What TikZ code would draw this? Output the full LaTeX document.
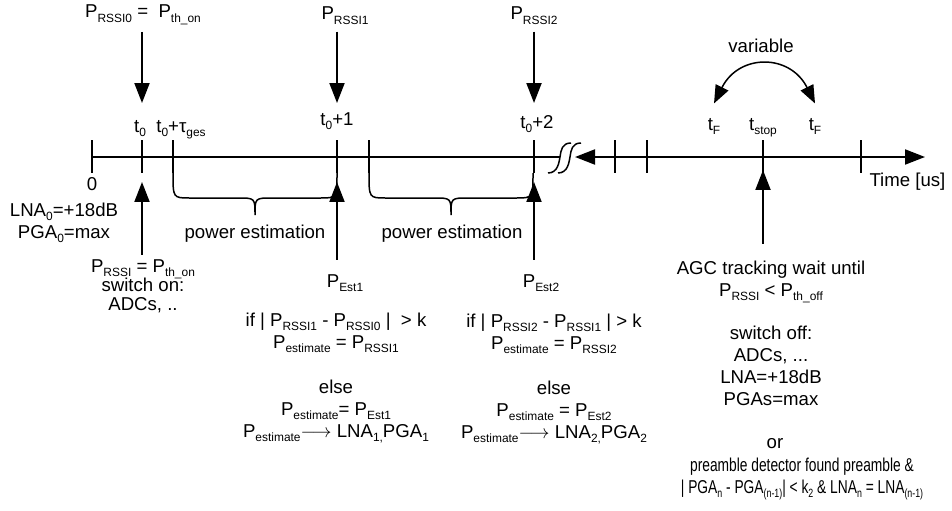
\documentclass[tikz,border=0pt]{standalone}
\usepackage{fontspec}
\setmainfont{Liberation Sans}
\newfontfamily\narrowfont[FakeStretch=0.74]{Liberation Sans}
\usetikzlibrary{arrows.meta}
\newcommand{\subt}[1]{\raisebox{-0.24em}{\fontsize{6.8}{7}\selectfont #1}}

\begin{document}
\begin{tikzpicture}[x=0.02cm, y=-0.02cm, line width=0.4mm,
  font=\fontsize{10.6}{12.5}\selectfont,
  arr/.style={-{Triangle[length=4mm,width=3mm]}},
  lbl/.style={anchor=base, inner sep=2pt},
  txt/.style={anchor=base, align=center, inner sep=2pt}]

\useasboundingbox (0,0) rectangle (952,510);

% Zeitachse
\foreach \n/\x in {z/92, t0/142, tg/173, t1/337, tp/369, t2/534, ta/615, tb/647, ts/763, te/861}
  \coordinate (\n) at (\x,157);
\coordinate (brkL) at (560,157);
\coordinate (brkR) at (575,157);
\coordinate (tend) at (925,157);

\draw (z) -- (brkL);
\draw[{Triangle[length=4mm,width=3mm]}-{Triangle[length=4mm,width=3mm]}] (brkR) -- (tend);

\foreach \n in {z,t0,tg,t1,tp,t2,ta,tb,ts,te}
  \draw (\n) ++(0,-17) -- ++(0,33);

% Unterbrechung
\foreach \dx in {0,10}
  \draw[line width=0.3mm, shift={(\dx,0)}] (548,173) .. controls (558,173) and (559,162) .. (560,157)
    .. controls (561,150) and (562,143) .. (571,143);

% Klammern
\foreach \x in {173,369}
  \draw[line width=0.3mm, shift={(\x,0)}] (0,173) .. controls (0,198) .. (17,198) -- (65,198)
    .. controls (82,198) .. (82,215) .. controls (82,198) .. (99,198) -- (147,198)
    .. controls (164,198) .. (164,173);

\node[lbl] (pe1) at (255,238) {power estimation};
\node[lbl] (pe2) at (452,238) {power estimation};

% oben
\node[lbl] (rssi0) at (143,18) {P\subt{RSSI0} =~ P\subt{th\_on}};
\node[lbl] (rssi1) at (345,20) {P\subt{RSSI1}};
\node[lbl] (rssi2) at (534,20) {P\subt{RSSI2}};

\draw[arr, shorten <=0.5mm] (rssi0.south -| t0) -- ([yshift=1.08cm]t0);
\draw[arr, shorten <=0.5mm] (rssi1.south -| t1) -- ([yshift=1.08cm]t1);
\draw[arr, shorten <=0.5mm] (rssi2.south -| t2) -- ([yshift=1.08cm]t2);

\node[lbl] (l0) at (92,190) {0};
\node[lbl] (lt0) at (140,132) {t\subt{0}};
\node[lbl] (ltg) at (181,132) {t\subt{0}+τ\subt{ges}};
\node[lbl] (lt1) at (337,125) {t\subt{0}+1};
\node[lbl] (lt2) at (537,128) {t\subt{0}+2};
\node[lbl] (ltf1) at (714,130) {t\subt{F}};
\node[lbl] (lts) at (763,130) {t\subt{stop}};
\node[lbl] (ltf2) at (815,130) {t\subt{F}};
\node[lbl, anchor=base west] (ltime) at (865,186) {Time [us]};

% variabel
\node[lbl] (lvar) at (761,53) {variable};
\draw[line width=0.3mm, {Triangle[length=3.6mm,width=2.8mm]}-{Triangle[length=3.6mm,width=2.8mm]}]
  ([yshift=2mm]ltf1.north) .. controls +(25,-50) and +(-25,-50) .. ([yshift=2mm]ltf2.north);

% unten links (base = letzte Zeile)
\node[txt] (init) at (64,238) {LNA\subt{0}=+18dB\\PGA\subt{0}=max};
\node[txt] (ton) at (143,310) {P\subt{RSSI} = P\subt{th\_on}\\[-1.5pt] switch on:\\[-2pt] ADCs, ..};
\draw[arr] (ton.north -| t0) -- ([yshift=-5mm]t0);

% Schaetzung 1
\node[lbl] (est1) at (345,287) {P\subt{Est1}};
\draw[arr, shorten <=2mm] (est1.north -| t1) -- ([yshift=-5mm]t1);
\node[txt] (c1) at (336,437) {if | P\subt{RSSI1} - P\subt{RSSI0} |~~> k\\
  P\subt{estimate} = P\subt{RSSI1}\\[13pt]
  else\\
  P\subt{estimate}= P\subt{Est1}\\
  P\subt{estimate}$\longrightarrow$ LNA\subt{1,}PGA\subt{1}};

% Schaetzung 2
\node[lbl] (est2) at (541,287) {P\subt{Est2}};
\draw[arr, shorten <=2mm] (est2.north -| t2) -- ([yshift=-5mm]t2);
\node[txt] (c2) at (554,438) {if | P\subt{RSSI2} - P\subt{RSSI1} | > k\\
  P\subt{estimate} = P\subt{RSSI2}\\[13pt]
  else\\
  P\subt{estimate} = P\subt{Est2}\\
  P\subt{estimate}$\longrightarrow$ LNA\subt{2,}PGA\subt{2}};

% Abschalten
\node[txt] (agc) at (771,405) {AGC tracking wait until\\
  P\subt{RSSI} < P\subt{th\_off}\\[12pt]
  switch off:\\ ADCs, ...\\ LNA=+18dB\\ PGAs=max};
\draw[arr, shorten <=2.5mm] (agc.north -| ts) -- ([yshift=-2.6mm]ts);

\node[lbl] (or) at (775,448) {or};
\node[txt, font=\narrowfont\fontsize{10.6}{12.5}\selectfont] (pre) at (802,493)
  {preamble detector found preamble \&\\
  | PGA\subt{n} - PGA\subt{(n-1)}| < k\subt{2} \& LNA\subt{n} = LNA\subt{(n-1)}};

\end{tikzpicture}
\end{document}
